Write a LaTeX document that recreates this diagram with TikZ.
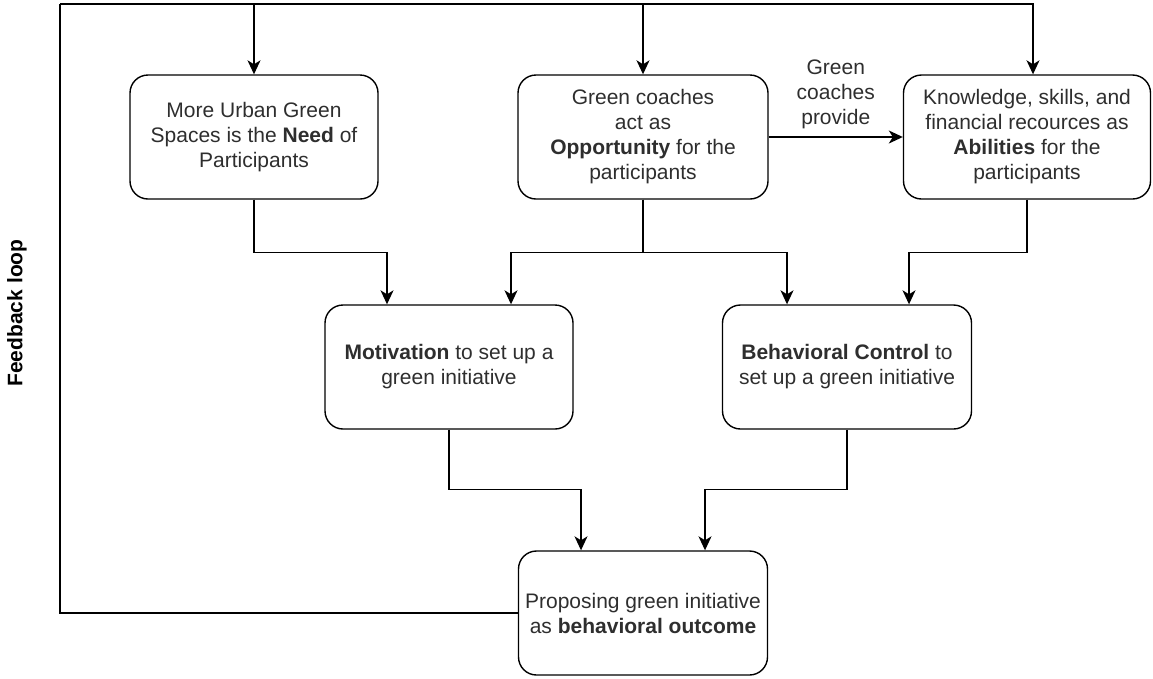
\documentclass[tikz,border=0pt]{standalone}
\usepackage{fontspec}
\setmainfont{Liberation Sans}
\usetikzlibrary{arrows.meta}
\begin{document}
\begin{tikzpicture}[x=1pt,y=-1pt,
  txt/.style={font=\fontsize{21}{25}\selectfont, text=black!82},
  box/.style={txt, draw, line width=1.4pt, rounded corners=18pt,
    minimum width=248pt, minimum height=124pt, inner sep=0pt, align=center},
  lbl/.style={txt, inner sep=0pt, align=center},
  wire/.style={line width=1.4pt},
  conn/.style={wire, -{Stealth[length=14pt,width=13pt,inset=4pt]}}]
\useasboundingbox (0,0) rectangle (1153,678);

% top row
\node[box] (need) at (254,137) {More Urban Green\\Spaces is the \textbf{Need} of\\Participants};
\node[box, minimum width=250pt] (opp) at (643,137) {Green coaches\\act as\\\textbf{Opportunity} for the\\participants};
\node[box, minimum width=247pt] (abil) at (1027,137) {Knowledge, skills, and\\financial recources as\\\textbf{Abilities} for the\\participants};

% middle row
\node[box] (motiv) at (449,367) {\textbf{Motivation} to set up a\\green initiative};
\node[box, minimum width=249pt] (ctrl) at (847,367) {\textbf{Behavioral Control} to\\set up a green initiative};

% outcome
\node[box, minimum width=249pt] (out) at (643,613) {Proposing green initiative\\as \textbf{behavioral outcome}};

% feedback label
\node[lbl, font=\fontsize{21}{25}\selectfont\bfseries, text=black, rotate=90] (fb) at (17,313) {Feedback loop};

% opportunity -> abilities
\draw[conn] (opp) -- node[lbl, above=7pt] (prov) {Green\\coaches\\provide} (abil);

% top row -> middle row
\draw[conn] (need.south) -- ++(0,53) -| ([xshift=-62pt]motiv.north);
\draw[conn] (opp.south) -- ++(0,53) -| ([xshift=62pt]motiv.north);
\draw[conn] (opp.south) -- ++(0,53) -| ([xshift=-60pt]ctrl.north);
\draw[conn] (abil.south) -- ++(0,53) -| ([xshift=62pt]ctrl.north);

% middle row -> outcome
\draw[conn] (motiv.south) -- ++(0,60) -| ([xshift=-62pt]out.north);
\draw[conn] (ctrl.south) -- ++(0,60) -| ([xshift=62pt]out.north);

% feedback loop back to the top row
\coordinate (loopTL) at (60,4);
\draw[wire] (out.west) -| (loopTL);
\draw[conn] (loopTL) -| (need.north);
\draw[conn] (loopTL) -| (opp.north);
\draw[conn] (loopTL) -| ([xshift=6pt]abil.north);
\end{tikzpicture}
\end{document}
